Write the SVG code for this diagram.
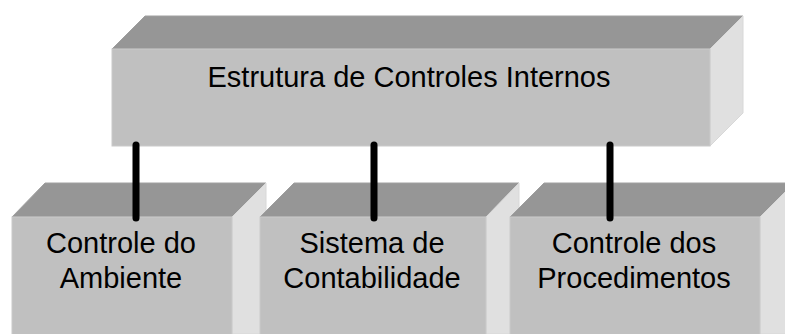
<svg xmlns="http://www.w3.org/2000/svg" width="785" height="334" viewBox="0 0 785 334">
<style>
.front{fill:#c0c0c0;stroke:#cacaca;stroke-width:1}
.top{fill:#969696;stroke:#a0a0a0;stroke-width:1}
.side{fill:#e0e0e0;stroke:#d8d8d8;stroke-width:1}
.lbl{font-family:"Liberation Sans",Arial,sans-serif;font-size:29px;fill:#000;text-anchor:middle}
.conn{stroke:#000;stroke-width:7;stroke-linecap:round;fill:none}
</style>
<rect width="785" height="334" fill="#ffffff"/>
<g id="node-top">
<polygon class="top" points="112,49 145,16 743,16 710,49"/>
<polygon class="side" points="710,49 743,16 743,113 710,146"/>
<rect class="front" x="112" y="49" width="598" height="97"/>
<text class="lbl" x="409" y="87">Estrutura de Controles Internos</text>
</g>
<g id="node-ambiente">
<polygon class="top" points="12,217 45,183 266,183 232,217"/>
<polygon class="side" points="232,217 266,183 266,334 232,334"/>
<rect class="front" x="12" y="217" width="220" height="120"/>
<text class="lbl" x="121"><tspan x="121" y="253">Controle do</tspan><tspan x="121" y="288">Ambiente</tspan></text>
</g>
<g id="node-contabilidade">
<polygon class="top" points="260,217 294,183 519,183 486,217"/>
<polygon class="side" points="486,217 519,183 519,334 486,334"/>
<rect class="front" x="260" y="217" width="226" height="120"/>
<text class="lbl" x="372"><tspan x="372" y="253">Sistema de</tspan><tspan x="372" y="288">Contabilidade</tspan></text>
</g>
<g id="node-procedimentos">
<polygon class="top" points="510,217 544,183 794,183 760,217"/>
<polygon class="side" points="760,217 794,183 794,334 760,334"/>
<rect class="front" x="510" y="217" width="250" height="120"/>
<text class="lbl" x="634"><tspan x="634" y="253">Controle dos</tspan><tspan x="634" y="288">Procedimentos</tspan></text>
</g>
<g id="connectors">
<line class="conn" x1="136" y1="145" x2="136" y2="218"/>
<line class="conn" x1="374" y1="145" x2="374" y2="218"/>
<line class="conn" x1="610" y1="145" x2="610" y2="218"/>
</g>
</svg>
